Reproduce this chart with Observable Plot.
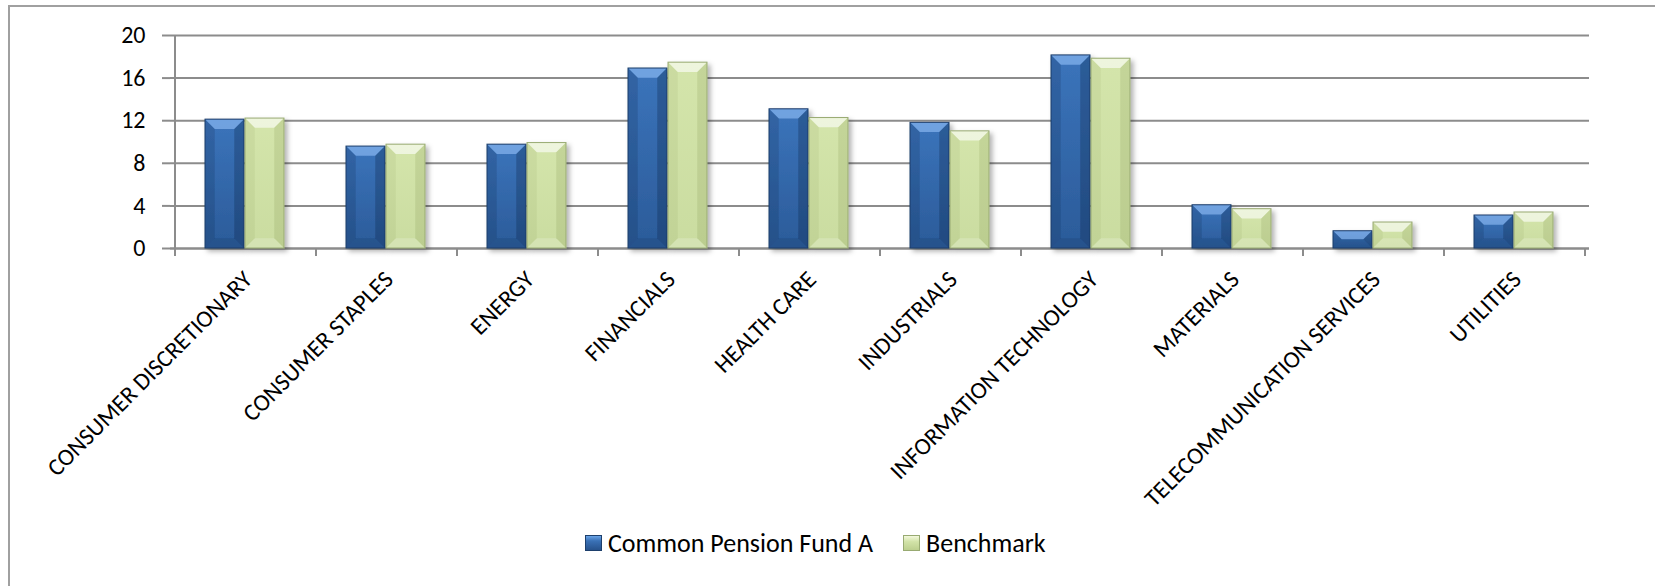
<!DOCTYPE html>
<html>
<head>
<meta charset="utf-8">
<script src="https://cdn.jsdelivr.net/npm/d3@7"></script>
<script src="https://cdn.jsdelivr.net/npm/@observablehq/plot@0.6"></script>
<style>
  html, body { margin: 0; padding: 0; background: #fff; width: 1655px; height: 586px; overflow: hidden; }
  #frame { position: absolute; left: 8px; top: 5px; width: 1800px; height: 800px;
           border-left: 2px solid #a0a0a0; border-top: 2px solid #a0a0a0; }
  #chart { position: absolute; left: 0; top: 0; }
  #legend { position: absolute; left: 585px; top: 527px; display: flex; align-items: center;
            font-family: Carlito, "Open Sans", Lato, sans-serif; font-size: 26px; color: #000; white-space: nowrap; }
  .sw { width: 17px; height: 16px; margin-right: 6px; box-sizing: border-box; }
  .sw.blue { background: linear-gradient(180deg, #6aa4e6 0%, #3a71b6 35%, #27528c 100%); border: 1px solid #1d3f6c; }
  .sw.green { background: linear-gradient(180deg, #f3f8dc 0%, #d2e3a8 40%, #bccf8e 100%); border: 1px solid #98aa72; }
  .item { display: flex; align-items: center; }
</style>
</head>
<body>
<div id="frame"></div>
<div id="chart"></div>
<div id="legend"></div>
<script>
// ---- data ----
const categories = [
  "CONSUMER DISCRETIONARY", "CONSUMER STAPLES", "ENERGY", "FINANCIALS", "HEALTH CARE",
  "INDUSTRIALS", "INFORMATION TECHNOLOGY", "MATERIALS", "TELECOMMUNICATION SERVICES", "UTILITIES"
];
const fundValues  = [12.1, 9.57, 9.75, 16.9, 13.07, 11.8, 18.13, 4.06, 1.62, 3.1];
const benchValues = [12.2, 9.75, 9.9, 17.45, 12.25, 11.0, 17.82, 3.69, 2.44, 3.38];
const yTicks = [0, 4, 8, 12, 16, 20];
const seriesNames = ["Common Pension Fund A", "Benchmark"];

const rows = categories.map((c, i) => ({category: c, fund: fundValues[i], bench: benchValues[i]}));

const FONT = 'Carlito, "Open Sans", Lato, sans-serif';
const GRID = "#8c8c8c";

// bevel styling applied to bars rendered by Plot
function bevel(gradId, edges) {
  return function(index, scales, values, dimensions, context, next) {
    const g = next(index, scales, values, dimensions, context);
    const ns = "http://www.w3.org/2000/svg";
    g.setAttribute("filter", "url(#barShadow)");
    for (const rect of Array.from(g.querySelectorAll("rect"))) {
      rect.setAttribute("fill", `url(#${gradId})`);
      const x = +rect.getAttribute("x"), y = +rect.getAttribute("y");
      const w = +rect.getAttribute("width"), h = +rect.getAttribute("height");
      const b = Math.min(10, h / 2, w / 4);
      const polys = [
        [[x, y], [x + w, y], [x + w - b, y + b], [x + b, y + b], edges.top],
        [[x, y], [x + b, y + b], [x + b, y + h - b], [x, y + h], edges.left],
        [[x + w, y], [x + w, y + h], [x + w - b, y + h - b], [x + w - b, y + b], edges.right],
        [[x, y + h], [x + b, y + h - b], [x + w - b, y + h - b], [x + w, y + h], edges.bottom]
      ];
      for (const p of polys) {
        const poly = document.createElementNS(ns, "polygon");
        poly.setAttribute("points", p.slice(0, 4).map(q => q.join(",")).join(" "));
        poly.setAttribute("fill", p[4][0]);
        poly.setAttribute("fill-opacity", p[4][1]);
        poly.setAttribute("stroke", "none");
        g.appendChild(poly);
      }
      const outline = rect.cloneNode();
      outline.setAttribute("fill", "none");
      outline.setAttribute("stroke", edges.stroke);
      outline.setAttribute("stroke-width", 1);
      g.appendChild(outline);
    }
    return g;
  };
}

// defs: gradients and shadow
function defsMark() {
  const svg = d3.create("svg:g");
  const defs = svg.append("defs");
  const gb = defs.append("linearGradient").attr("id", "gBlue").attr("x1", 0).attr("y1", 0).attr("x2", 0).attr("y2", 1);
  gb.append("stop").attr("offset", "0%").attr("stop-color", "#3b74bb");
  gb.append("stop").attr("offset", "100%").attr("stop-color", "#2b5b99");
  const gg = defs.append("linearGradient").attr("id", "gGreen").attr("x1", 0).attr("y1", 0).attr("x2", 0).attr("y2", 1);
  gg.append("stop").attr("offset", "0%").attr("stop-color", "#d4e5ab");
  gg.append("stop").attr("offset", "100%").attr("stop-color", "#cadca0");
  const f = defs.append("filter").attr("id", "barShadow").attr("x", "-20%").attr("y", "-20%").attr("width", "150%").attr("height", "150%");
  f.append("feDropShadow").attr("dx", 3).attr("dy", 3).attr("stdDeviation", 2.5).attr("flood-color", "#000").attr("flood-opacity", 0.3);
  return svg.node();
}

// category boundary ticks and the vertical axis line
function boundaryTicks(index, scales) {
  const x = scales.x;
  const bw = typeof x.bandwidth === "function" ? x.bandwidth() : scales.scales.x.bandwidth;
  const y0 = scales.y(0), yTop = scales.y(d3.max(yTicks));
  const g = d3.create("svg:g").attr("stroke", GRID).attr("stroke-width", 2);
  const xs = categories.map(c => x(c)).concat([x(categories[categories.length - 1]) + bw]);
  xs.forEach((v, i) => g.append("line")
    .attr("x1", v).attr("x2", v)
    .attr("y1", i === 0 ? yTop : y0).attr("y2", y0 + 8));
  return g.node();
}

const chart = Plot.plot({
  width: 1655,
  height: 500,
  marginLeft: 170,
  marginRight: 66,
  marginTop: 35,
  marginBottom: 252,
  style: {fontFamily: FONT, background: "transparent", overflow: "visible"},
  x: {domain: categories, padding: 0, axis: null},
  y: {domain: [0, 20], axis: null},
  marks: [
    defsMark,
    Plot.gridY(yTicks, {stroke: GRID, strokeOpacity: 1, strokeWidth: 2}),
    Plot.axisY(yTicks, {tickSize: 8, tickPadding: 17, fontSize: 24, stroke: GRID, strokeWidth: 2, fill: "#000", label: null}),
    boundaryTicks,
    Plot.ruleY([0], {stroke: GRID, strokeWidth: 2}),
    Plot.barY(rows, {x: "category", y: "fund", insetLeft: 30, insetRight: 72, fill: "#3569ad",
      render: bevel("gBlue", {top: ["#9cc8ff", 0.55], left: ["#0a1f40", 0.18], right: ["#0a1f40", 0.28], bottom: ["#0a1f40", 0.15], stroke: "#1d3d6a"})}),
    Plot.barY(rows, {x: "category", y: "bench", insetLeft: 70, insetRight: 32, fill: "#d1e2a6",
      render: bevel("gGreen", {top: ["#ffffff", 0.6], left: ["#506018", 0.07], right: ["#506018", 0.12], bottom: ["#ffffff", 0.2], stroke: "#98aa72"})}),
    Plot.axisX({tickSize: 0, tickRotate: -45, tickPadding: 27, dx: 2, fontSize: 24, fill: "#000", label: null})
  ]
});
document.getElementById("chart").appendChild(chart);

// legend
const legend = document.getElementById("legend");
seriesNames.forEach((name, i) => {
  const item = document.createElement("div");
  item.className = "item";
  if (i > 0) item.style.marginLeft = "30px";
  const sw = document.createElement("div");
  sw.className = "sw " + (i === 0 ? "blue" : "green");
  const t = document.createElement("span");
  t.textContent = name;
  item.appendChild(sw);
  item.appendChild(t);
  legend.appendChild(item);
});
</script>
</body>
</html>
